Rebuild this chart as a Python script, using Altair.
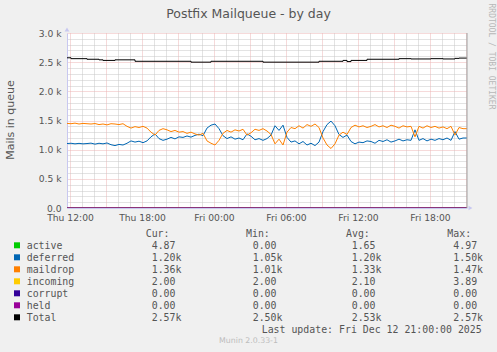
import altair as alt
import pandas as pd

# ---------------- data ----------------
START = "2025-12-11T11:45:00Z"
STEP = "20min"
COARSE_STEP = "200min"

deferred = [1105, 1110, 1100, 1108, 1100, 1105, 1112, 1095, 1110, 1100,
            1115, 1085, 1070, 1090, 1080, 1110, 1150, 1130, 1145, 1120,
            1150, 1220, 1270, 1190, 1160, 1180, 1210, 1185, 1220, 1210,
            1235, 1215, 1245, 1265, 1240, 1370, 1420, 1440, 1360, 1240,
            1190, 1220, 1180, 1200, 1170, 1270, 1230, 1170, 1190, 1160,
            1190, 1250, 1410, 1330, 1420, 1210, 1130, 1150, 1100, 1140,
            1080, 1110, 1070, 1130, 1310, 1430, 1490, 1410, 1260, 1210,
            1250, 1140, 1100, 1130, 1120, 1150, 1140, 1110, 1160, 1140,
            1170, 1130, 1150, 1180, 1150, 1170, 1160, 1340, 1160, 1190,
            1150, 1180, 1160, 1190, 1170, 1200, 1160, 1310, 1180, 1200,
            1200]

maildrop = [1450, 1445, 1455, 1440, 1450, 1445, 1440, 1448, 1430, 1440,
            1425, 1445, 1440, 1430, 1445, 1400, 1370, 1395, 1380, 1400,
            1370, 1300, 1250, 1330, 1360, 1340, 1310, 1330, 1300, 1310,
            1280, 1300, 1270, 1250, 1280, 1150, 1110, 1080, 1160, 1280,
            1330, 1300, 1340, 1320, 1350, 1250, 1290, 1350, 1330, 1360,
            1320, 1260, 1100, 1180, 1080, 1300, 1380, 1360, 1410, 1370,
            1430, 1400, 1440, 1380, 1200, 1080, 1020, 1100, 1250, 1300,
            1260, 1380, 1420, 1390, 1410, 1380, 1400, 1430, 1390, 1410,
            1380, 1420, 1400, 1370, 1410, 1390, 1400, 1220, 1400, 1370,
            1410, 1380, 1400, 1370, 1390, 1360, 1400, 1250, 1380, 1360,
            1360]

total = [2575, 2560, 2560, 2560, 2560, 2550, 2550, 2550, 2540, 2530,
         2530, 2530, 2540, 2540, 2540, 2540, 2540, 2515, 2515, 2515,
         2515, 2515, 2515, 2515, 2515, 2515, 2515, 2515, 2515, 2515,
         2515, 2500, 2500, 2500, 2500, 2500, 2515, 2515, 2515, 2515,
         2515, 2515, 2515, 2515, 2515, 2515, 2515, 2515, 2515, 2500,
         2500, 2500, 2500, 2500, 2500, 2500, 2500, 2500, 2500, 2500,
         2500, 2500, 2500, 2515, 2515, 2515, 2515, 2515, 2515, 2530,
         2510, 2530, 2530, 2530, 2530, 2550, 2550, 2550, 2550, 2550,
         2550, 2550, 2550, 2560, 2560, 2560, 2555, 2555, 2555, 2555,
         2555, 2560, 2560, 2560, 2555, 2555, 2555, 2565, 2570, 2570,
         2570]

active = [2.1, 0.5, 3.2, 1.0, 4.97, 0.0, 1.8, 2.5, 0.3, 1.2, 4.87]
incoming = [2.0, 2.0, 3.89, 2.0, 2.0, 2.1, 2.0, 2.5, 2.0, 2.0, 2.0]
corrupt = [0, 0, 0, 0, 0, 0, 0, 0, 0, 0, 0]
held = [0, 0, 0, 0, 0, 0, 0, 0, 0, 0, 0]

names = ["active", "deferred", "maildrop", "incoming", "corrupt", "held", "Total"]
colors = ["#00CC00", "#0066B3", "#FF8000", "#FFCC00", "#330099", "#990099", "#000000"]
cur = ["4.87", "1.20k", "1.36k", "2.00", "0.00", "0.00", "2.57k"]
mins = ["0.00", "1.05k", "1.01k", "2.00", "0.00", "0.00", "2.50k"]
avgs = ["1.65", "1.20k", "1.33k", "2.10", "0.00", "0.00", "2.53k"]
maxs = ["4.97", "1.50k", "1.47k", "3.89", "0.00", "0.00", "2.57k"]

title_text = "Postfix Mailqueue - by day"
ytitle = "Mails in queue"
last_update = "Last update: Fri Dec 12 21:00:00 2025"
watermark = "RRDTOOL / TOBI OETIKER"
version = "Munin 2.0.33-1"

# ---------------- build ----------------
fine_t = pd.date_range(START, periods=len(deferred), freq=STEP)
coarse_t = pd.date_range(START, periods=len(active), freq=COARSE_STEP)
fmt = lambda t: t.strftime("%Y-%m-%dT%H:%M:%SZ")

def frame(ts, vals):
    return pd.DataFrame({"time": [fmt(t) for t in ts], "value": vals})

series_data = {
    "active": frame(coarse_t, active),
    "deferred": frame(fine_t, deferred),
    "maildrop": frame(fine_t, maildrop),
    "incoming": frame(coarse_t, incoming),
    "corrupt": frame(coarse_t, corrupt),
    "held": frame(coarse_t, held),
    "Total": frame(fine_t, total),
}

x_dom = [alt.DateTime(year=2025, month=12, date=11, hours=11, minutes=45, utc=True),
         alt.DateTime(year=2025, month=12, date=12, hours=21, minutes=5, utc=True)]
hour_ticks = []
for d, h0, h1 in [(11, 12, 23), (12, 0, 21)]:
    for h in range(h0, h1 + 1):
        hour_ticks.append(alt.DateTime(year=2025, month=12, date=d, hours=h, utc=True))

MAJOR = "#EDB4B4"
MINOR = "#C6C6C6"
AXISC = "#C8C8F0"
TXT = "#555555"

x_enc = alt.X("time:T", scale=alt.Scale(type="utc", domain=x_dom),
              axis=alt.Axis(title=None, values=hour_ticks, grid=True,
                            gridColor=alt.condition("utchours(datum.value) % 3 === 0",
                                                    alt.value(MAJOR), alt.value(MINOR)),
                            gridDash=[1, 1], gridWidth=1,
                            ticks=False, tickSize=0, labelPadding=5,
                            labelOverlap=False, labelFlush=False,
                            labelExpr="utchours(datum.value) % 6 === 0 ? utcFormat(datum.value, '%a %H:%M') : ''",
                            domainColor=AXISC))
y_enc = alt.Y("value:Q", scale=alt.Scale(domain=[0, 3000], nice=False, zero=True),
              axis=alt.Axis(title=None, values=list(range(0, 3001, 100)), grid=True,
                            gridColor=alt.condition("datum.value % 500 === 0",
                                                    alt.value(MAJOR), alt.value(MINOR)),
                            gridDash=[1, 1], gridWidth=1,
                            ticks=False, tickSize=0, labelPadding=6,
                            labelOverlap=False, labelFlush=False,
                            labelExpr="datum.value % 500 === 0 ? (datum.value === 0 ? '0.0' : format(datum.value / 1000, '.1f') + ' k') : ''",
                            domainColor=AXISC))

layers = []
for name, col in zip(names, colors):
    interp = "step-after" if name == "Total" else "linear"
    layers.append(alt.Chart(series_data[name]).mark_line(
        color=col, strokeWidth=1, interpolate=interp, clip=True).encode(x=x_enc, y=y_enc))

end_df = pd.DataFrame({"time": [fmt(fine_t[-1])]})
layers.append(alt.Chart(end_df).mark_rule(color="#A0A0A0", strokeWidth=1).encode(x=x_enc))

one = pd.DataFrame({"d": [0]})
PX, PY = 67, 33

def at(px, py):
    return dict(x=alt.value(px - PX), y=alt.value(py - PY))

def txt(s, px, py, size, color=TXT, font="DejaVu Sans", align="left",
        baseline="alphabetic", angle=None, lh=None):
    kw = dict(text=s, font=font, fontSize=size, color=color, align=align, baseline=baseline)
    if angle is not None:
        kw["angle"] = angle
    if lh is not None:
        kw["lineBreak"] = "\n"
        kw["lineHeight"] = lh
    return alt.Chart(one).mark_text(**kw).encode(**at(px, py))

# axis arrows
layers.append(alt.Chart(one).mark_point(shape="triangle-up", filled=True, size=22,
                                        color=AXISC, opacity=1).encode(**at(67, 29.5)))
layers.append(alt.Chart(one).mark_point(shape="triangle-right", filled=True, size=22,
                                        color=AXISC, opacity=1).encode(**at(470.5, 208)))

# titles
layers.append(txt(title_text, 248.5, 17.5, 12.5, align="center"))
layers.append(txt(ytitle, 11, 120, 11, align="center", baseline="middle", angle=270))
layers.append(txt(watermark, 490.5, 56.5, 8, color="#B8B8B8", font="DejaVu Sans Mono",
                  align="center", baseline="middle", angle=90))
layers.append(txt(version, 248.5, 340.5, 7.8, color="#BDBDBD", align="center", baseline="middle"))

# legend
MONO = "DejaVu Sans Mono"
LS = 9.9
ROW0 = 249
for i, c in enumerate(colors):
    layers.append(alt.Chart(one).mark_square(size=36, color=c, opacity=1).encode(
        **at(17, 245.3 + 12 * i)))
layers.append(txt("\n".join(names), 26.7, ROW0, LS, font=MONO, lh=12))
for hdr, vals, hx, vx in [("Cur:", cur, 145.7, 151.7), ("Min:", mins, 246, 252.7),
                          ("Avg:", avgs, 346, 351.7), ("Max:", maxs, 447.3, 453.3)]:
    layers.append(txt(hdr, hx, 237, LS, font=MONO))
    layers.append(txt("\n".join(vals), vx, ROW0, LS, font=MONO, lh=12))
layers.append(txt(last_update, 261.7, 333, LS, font=MONO))

chart = alt.layer(*layers).properties(
    width=400, height=175,
    padding={"left": PX, "top": PY, "right": 30, "bottom": 144},
    autosize=alt.AutoSizeParams(type="none"),
    background="#F0F0F0",
).configure_view(fill="white", stroke=None).configure_axis(
    labelFont="DejaVu Sans", labelFontSize=9.2, labelColor=TXT,
)

chart.save("out.html", embed_options={"renderer": "svg", "actions": False})
